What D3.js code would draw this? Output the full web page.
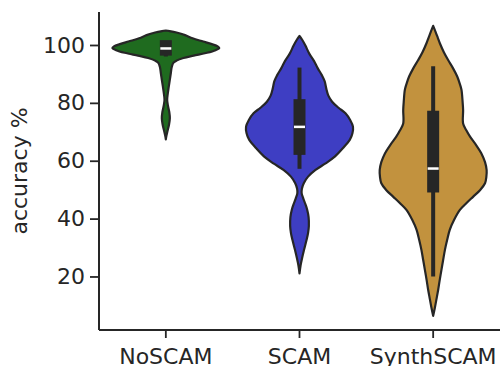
<!DOCTYPE html>
<html><head><meta charset="utf-8">
<script src="https://cdn.jsdelivr.net/npm/d3@7"></script>
<style>body{margin:0;background:#fff}svg{display:block}</style>
</head><body>
<svg id="c" width="500" height="366"></svg>
<script>
const categories = ["NoSCAM", "SCAM", "SynthSCAM"];
const colors = ["#1f6b1f", "#3e3ec3", "#c2923e"];
const yTicks = [20, 40, 60, 80, 100];
const yLabel = "accuracy %";

// violin outlines: [value, relative density]
const densNoSCAM = [[105.0,0],[104.8,0.07],[104.3,0.2],[103.4,0.36],[102.3,0.5],[101.2,0.7],[100.3,0.86],[99.5,0.97],[98.9,1.0],[98.2,0.93],[97.3,0.77],[96.3,0.52],[95.5,0.33],[94.6,0.2],[93.8,0.14],[92.3,0.11],[90.5,0.095],[88,0.075],[85.6,0.055],[83,0.035],[81,0.025],[79,0.04],[76.8,0.065],[74.7,0.075],[72.5,0.06],[70.5,0.035],[68.7,0.012],[67.4,0]];
const densSCAM = [[103.1,0],[101.8,0.05],[99.8,0.11],[97.1,0.18],[94.5,0.27],[92,0.34],[89.5,0.42],[87.5,0.47],[85,0.5],[82.5,0.54],[80.4,0.61],[78.3,0.73],[76.4,0.86],[74,0.95],[71.8,1.0],[69.5,0.99],[67.2,0.94],[64.5,0.82],[61.4,0.66],[59,0.48],[56.8,0.3],[54.5,0.16],[52.2,0.08],[50.3,0.045],[48.8,0.04],[47,0.07],[45,0.11],[43,0.145],[40.5,0.17],[37.5,0.175],[35,0.16],[32.5,0.13],[29.2,0.085],[26.5,0.05],[23.8,0.02],[21.1,0]];
const densSynth = [[106.6,0],[104.3,0.05],[102.3,0.09],[100.6,0.125],[97.5,0.2],[94.8,0.28],[92,0.37],[89.1,0.45],[86.5,0.5],[84.5,0.53],[80.5,0.55],[77.5,0.56],[72.9,0.56],[70.5,0.62],[68.3,0.69],[65.5,0.8],[62.6,0.9],[59.5,0.97],[56.8,1.0],[54.5,0.995],[52.2,0.97],[49.9,0.88],[47.6,0.75],[45.3,0.62],[43,0.5],[39.5,0.39],[36.1,0.31],[32.5,0.26],[29.2,0.22],[25.5,0.185],[22.3,0.155],[18.5,0.12],[15.4,0.094],[12,0.06],[9,0.03],[6.4,0]];
const densities = [densNoSCAM, densSCAM, densSynth];

// inner box stats
const q1 = [98.4, 64.1, 51.1];
const q3 = [99.6, 79.2, 75.2];
const medians = [98.8, 71.7, 57.3];
const whiskLo = [96.7, 57.9, 20.7];
const whiskHi = [100, 91.5, 92.0];

const svg = d3.select("#c");
const font = "DejaVu Sans, sans-serif";
const ink = "#262626";

const x = d3.scaleBand().domain(categories).range([99, 500]);
const y = d3.scaleLinear().domain([1.5, 111.4]).range([330, 12]);
const halfW = d3.scaleLinear().domain([0, 1]).range([0, x.bandwidth() * 0.4]);

categories.forEach((c, i) => {
  const cx = x(c) + x.bandwidth() / 2;
  const area = d3.area()
    .y(d => y(d[0]))
    .x0(d => cx - halfW(d[1]))
    .x1(d => cx + halfW(d[1]))
    .curve(d3.curveCatmullRom.alpha(0.5));
  svg.append("path").attr("d", area(densities[i]))
    .attr("fill", colors[i]).attr("stroke", ink).attr("stroke-width", 2.2)
    .attr("stroke-linejoin", "round");
  // whisker
  svg.append("line").attr("x1", cx).attr("x2", cx)
    .attr("y1", y(whiskHi[i]) - 2).attr("y2", y(whiskLo[i]) + 2)
    .attr("stroke", ink).attr("stroke-width", 4);
  // box
  svg.append("rect").attr("x", cx - 6).attr("width", 12)
    .attr("y", y(q3[i]) - 6).attr("height", y(q1[i]) - y(q3[i]) + 12)
    .attr("fill", ink);
  // median
  svg.append("rect").attr("x", cx - 5.5).attr("width", 11)
    .attr("y", y(medians[i]) - 1.25).attr("height", 2.5)
    .attr("fill", "#fff");
});

const yAxis = svg.append("g").attr("transform", "translate(99,0)")
  .call(d3.axisLeft(y).tickValues(yTicks).tickSize(9).tickPadding(5));
const xAxis = svg.append("g").attr("transform", "translate(0,330)")
  .call(d3.axisBottom(x).tickSize(8).tickPadding(10));
[yAxis, xAxis].forEach(g => {
  g.select(".domain").attr("stroke", ink).attr("stroke-width", 2);
  g.selectAll(".tick line").attr("stroke", ink).attr("stroke-width", 1.8);
  g.selectAll(".tick text").attr("fill", ink).attr("font-size", 22).attr("font-family", font);
});
yAxis.select(".domain").attr("d", "M0,12V330");
xAxis.select(".domain").attr("d", "M99,0H500");

svg.append("text").attr("transform", "translate(27,171) rotate(-90)")
  .attr("text-anchor", "middle").attr("font-family", font).attr("font-size", 22)
  .attr("fill", ink).text(yLabel);
</script>
</body></html>
